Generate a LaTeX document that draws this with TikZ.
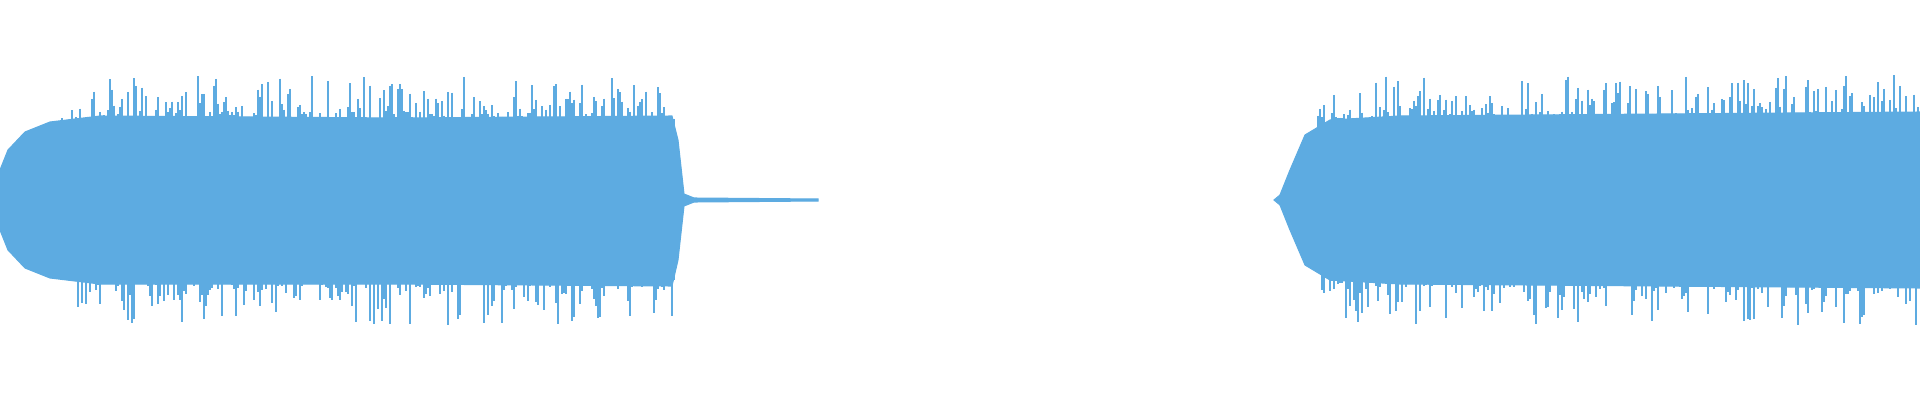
\documentclass[tikz,border=0pt]{standalone}
\definecolor{wave}{HTML}{5DABE1}
\begin{document}
\begin{tikzpicture}[x=0.01cm,y=-0.01cm,wavebody/.style={fill=wave,draw=wave,line width=0.3pt},spike/.style={draw=wave,line width=0.35pt}]
  \useasboundingbox (0,0) rectangle (1920,400);
  \pgfmathsetseed{11}
  % left burst
  \fill[wavebody] (0,200) -- (0,170) -- (8,150) -- (25,132) -- (50,122) -- (100,116)
    -- (400,118) -- (672,116) -- (678,140) -- (684,194) -- (694,198) -- (818,199)
    -- (818,201) -- (694,202) -- (684,206) -- (678,260) -- (672,286) -- (400,284)
    -- (100,284) -- (50,278) -- (25,268) -- (8,250) -- (0,230) -- cycle;
  \foreach \x in {4,6,...,674}{
    \pgfmathsetmacro\f{min(1,(\x+25)/110)}
    \pgfmathsetmacro\hu{\f*(80+45*rnd^3)}
    \pgfmathsetmacro\hd{\f*(80+45*rnd^3)}
    \draw[spike] (\x,200-\hu) -- (\x,200+\hd);
  }
  % right burst
  \fill[wavebody] (1274,200) -- (1280,195) -- (1290,170) -- (1305,135) -- (1330,120)
    -- (1400,116) -- (1920,112) -- (1920,288) -- (1400,284) -- (1330,280)
    -- (1305,265) -- (1290,230) -- (1280,205) -- cycle;
  \foreach \x in {1290,1292,...,1918}{
    \pgfmathsetmacro\f{min(1,(\x-1276)/60)}
    \pgfmathsetmacro\hu{\f*(80+45*rnd^3)}
    \pgfmathsetmacro\hd{\f*(80+45*rnd^3)}
    \draw[spike] (\x,200-\hu) -- (\x,200+\hd);
  }
\end{tikzpicture}
\end{document}
